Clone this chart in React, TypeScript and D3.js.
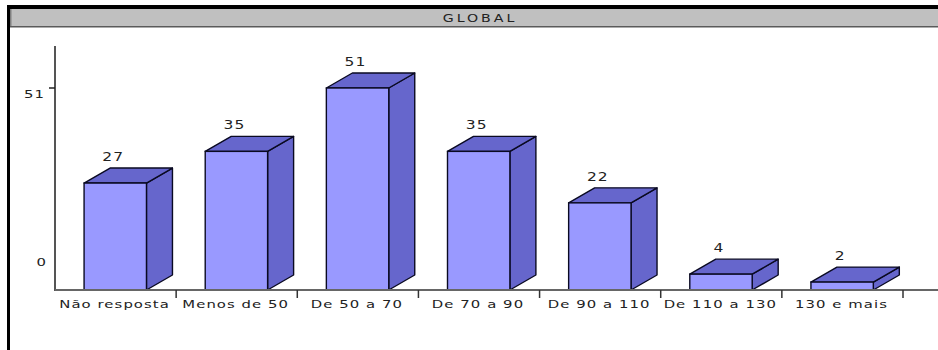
import React from "react";
import * as d3 from "d3";

const categories = ["Não resposta", "Menos de 50", "De 50 a 70", "De 70 a 90", "De 90 a 110", "De 110 a 130", "130 e mais"];
const values = [27, 35, 51, 35, 22, 4, 2];
const yTickValues = [0, 51];
const title = "GLOBAL";

const W = 938;
const H = 350;
const baseY = 290;
const topY = 88;
const axisX = 55;
const endX = 903;
const depthX = 26;
const depthY = 15;
const FONT = "'DejaVu Sans', sans-serif";
const SX = 1.35;

function StretchText({ x, y, anchor, size, fill, spacing, children }: any) {
  return (
    <text
      transform={`translate(${x},${y}) scale(${SX},1)`}
      textAnchor={anchor}
      fontSize={size}
      fontFamily={FONT}
      fill={fill}
      letterSpacing={spacing || 0}
    >
      {children}
    </text>
  );
}

export default function App() {
  const x = d3.scaleBand<string>().domain(categories).range([axisX, endX]).paddingInner(0).paddingOuter(0);
  const y = d3.scaleLinear().domain([0, 51]).range([baseY, topY]);
  const bw = x.bandwidth();
  const frontW = bw * 0.515;
  const offset = bw * 0.24;

  return (
    <div style={{ position: "fixed", left: 0, top: 0, width: W, height: H, background: "#fff" }}>
      <svg width={W} height={H} style={{ display: "block" }}>
        <rect x={0} y={0} width={W} height={H} fill="#fff" />
        {/* frame */}
        <rect x={7} y={5} width={W - 7} height={4} fill="#000" />
        <rect x={7} y={5} width={3} height={H - 5} fill="#000" />
        <rect x={10} y={9} width={W - 10} height={17} fill="#c0c0c0" />
        <rect x={10} y={9} width={1.5} height={17} fill="#808080" />
        <rect x={10} y={26} width={W - 10} height={1.5} fill="#5a5a5a" />
        <StretchText x={480} y={22} anchor="middle" size={10.5} fill="#222" spacing={2.2}>
          {title}
        </StretchText>

        {/* y axis */}
        <line x1={axisX} y1={46} x2={axisX} y2={baseY + 1} stroke="#555" strokeWidth={2} />
        {yTickValues.map((v) =>
          v > 0 ? <line key={"t" + v} x1={axisX - 6} x2={axisX} y1={y(v)} y2={y(v)} stroke="#222" strokeWidth={1.5} /> : null
        )}
        <StretchText x={45} y={98} anchor="end" size={11} fill="#222" spacing={0.8}>
          {String(yTickValues[1])}
        </StretchText>
        <StretchText x={46} y={266} anchor="end" size={11} fill="#222">
          {String(yTickValues[0])}
        </StretchText>

        {/* bars */}
        {categories.map((c, i) => {
          const x0 = (x(c) as number) + offset;
          const x1 = x0 + frontW;
          const yt = y(values[i]);
          const yb = baseY;
          const top = `M${x0},${yt} L${x0 + depthX},${yt - depthY} L${x1 + depthX},${yt - depthY} L${x1},${yt} Z`;
          const side = `M${x1},${yt} L${x1 + depthX},${yt - depthY} L${x1 + depthX},${yb - depthY} L${x1},${yb} Z`;
          return (
            <g key={c}>
              <path d={side} fill="#6666cc" stroke="#0a0a22" strokeWidth={1.4} strokeLinejoin="round" />
              <path d={top} fill="#6666cc" stroke="#0a0a22" strokeWidth={1.4} strokeLinejoin="round" />
              <rect x={x0} y={yt} width={frontW} height={yb - yt} fill="#9999ff" stroke="#0a0a22" strokeWidth={1.4} />
              <StretchText x={x0 + frontW / 2 - 2} y={yt - depthY - 7} anchor="middle" size={11.5} fill="#222" spacing={0.8}>
                {String(values[i])}
              </StretchText>
            </g>
          );
        })}

        {/* x axis */}
        <line x1={axisX} y1={baseY} x2={W} y2={baseY} stroke="#666" strokeWidth={2} />
        {categories.map((c) => (
          <line key={"xt" + c} x1={(x(c) as number) + bw} x2={(x(c) as number) + bw} y1={baseY} y2={baseY + 8} stroke="#333" strokeWidth={1.5} />
        ))}
        {categories.map((c) => (
          <StretchText key={"xl" + c} x={(x(c) as number) + bw / 2 - 1} y={308} anchor="middle" size={11} fill="#222" spacing={0.8}>
            {c}
          </StretchText>
        ))}
      </svg>
    </div>
  );
}
